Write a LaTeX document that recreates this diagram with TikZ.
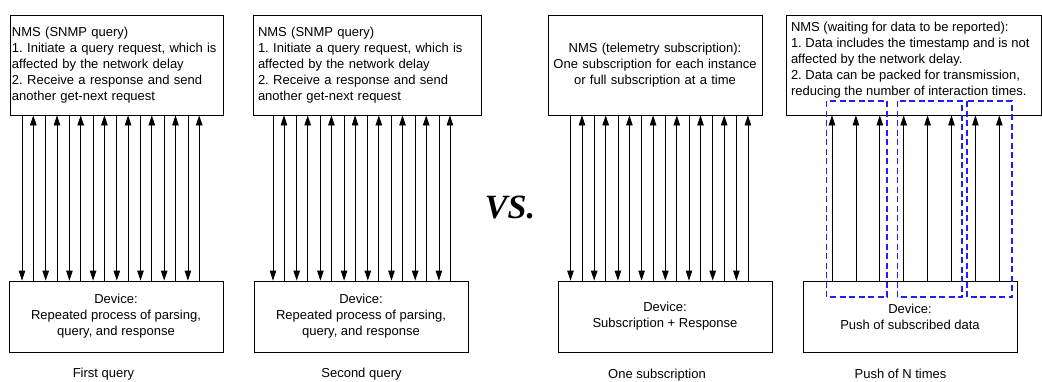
\documentclass[tikz,border=0pt]{standalone}
\usepackage{fontspec}
\setmainfont{Liberation Sans}
\newfontfamily\vsfont{Liberation Serif}
\usetikzlibrary{arrows.meta}
\frenchspacing

\begin{document}
\begin{tikzpicture}[x=1pt, y=-1pt,
        font=\fontsize{13}{16}\selectfont,
        box/.style={draw, line width=0.8pt, inner sep=0pt},
        msg/.style={line width=0.8pt, -{Triangle[length=10pt,width=6.5pt]}},
        batch/.style={draw={rgb,255:red,30;green,30;blue,255}, line width=1.1pt, dash pattern=on 6pt off 3.5pt}]

            \useasboundingbox (0,0) rectangle (1042,381);

            % NMS side
            \node[box, minimum width=213, minimum height=100, text width=209, align=left] (nms1) at (116.5,65)
                {NMS (SNMP query)\\1. Initiate a query request, which is\\affected by the network delay\\2. Receive a response and send\\another get-next request};
            \node[box, minimum width=228, minimum height=100, text width=218, align=left] (nms2) at (367,65)
                {NMS (SNMP query)\\1. Initiate a query request, which is\\affected by the network delay\\2. Receive a response and send\\another get-next request};
            \node[box, minimum width=214, minimum height=100, text width=210, align=center] (nms3) at (655,65)
                {NMS (telemetry subscription):\\One subscription for each instance\\or full subscription at a time};
            \node[box, minimum width=255, inner xsep=5pt, inner ysep=7pt] (nms4) at (913.5,65)
                {\parbox[c][86pt][t]{245pt}{NMS (waiting for data to be reported):\\1. Data includes the timestamp and is not\\affected by the network delay.\\2. Data can be packed for transmission,\\reducing the number of interaction times.}};

            % Device side
            \node[box, minimum width=214, minimum height=71, align=center] (dev1) at (116,316.5)
                {Device:\\Repeated process of parsing,\\query, and response};
            \node[box, minimum width=214, minimum height=71, align=center] (dev2) at (361,316.5)
                {Device:\\Repeated process of parsing,\\query, and response};
            \node[box, minimum width=214, minimum height=71, align=center] (dev3) at (665,316.5)
                {Device:\\Subscription + Response};
            \node[box, minimum width=214, minimum height=71, align=center] (dev4) at (910,316.5)
                {Device:\\Push of subscribed data};

            % Request / response pairs
            \foreach \n/\d/\u in {1/22/33.3, 2/273/284, 3/570.5/582} {
                \foreach \i in {0,...,7} {
                    \coordinate (c) at ({\d+23.7*\i},0);
                    \draw[msg] (nms\n.south -| c) -- (dev\n.north -| c);
                    \coordinate (c) at ({\u+23.7*\i},0);
                    \draw[msg] (dev\n.north -| c) -- (nms\n.south -| c);
                }
            }

            % Pushed data
            \foreach \i in {0,...,7} {
                \coordinate (c) at ({832+23.9*\i},0);
                \draw[msg] (dev4.north -| c) -- (nms4.south -| c);
            }
            \draw[batch] (826.5,101) rectangle (887,297);
            \draw[batch] (897.5,101) rectangle (962,297);
            \draw[batch] (967,101) rectangle (1012,297);

            % Labels
            \node (vs) at (510,207) {\vsfont\fontsize{34}{34}\selectfont\bfseries\itshape VS.};
            \node (cap1) at (103.5,374) {First query};
            \node (cap2) at (361.5,374) {Second query};
            \node (cap3) at (657,375) {One subscription};
            \node (cap4) at (900.5,374) {Push of N times};

        \end{tikzpicture}
\end{document}
